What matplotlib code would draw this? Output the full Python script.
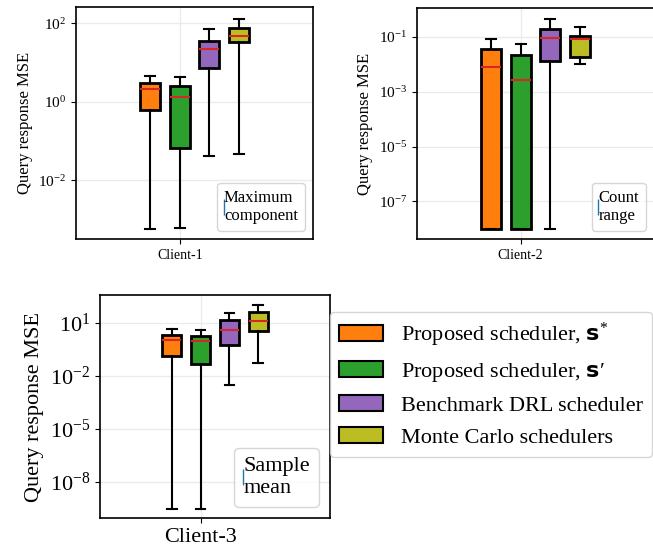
import matplotlib
matplotlib.use('Agg')
import matplotlib.pyplot as plt
from matplotlib.patches import Patch
from matplotlib.lines import Line2D

plt.rcParams['font.family'] = ['Liberation Serif', 'DejaVu Serif']
plt.rcParams['mathtext.fontset'] = 'custom'
plt.rcParams['mathtext.rm'] = 'Liberation Serif'
plt.rcParams['mathtext.it'] = 'Liberation Serif:italic'
plt.rcParams['mathtext.bf'] = 'DejaVu Sans:bold'

# --- data (log-scale box statistics) ---
schedulers = [r'Proposed scheduler, $\mathbf{s}^{*}$',
              'Proposed scheduler, $\\mathbf{s}$\u2032',
              'Benchmark DRL scheduler',
              'Monte Carlo schedulers']
colors = ['tab:orange', 'tab:green', 'tab:purple', 'tab:olive']
clients = ['Client-1', 'Client-2', 'Client-3']
notes = ['Maximum\ncomponent', 'Count\nrange', 'Sample\nmean']

# client 1
c1_whislo = [5.6e-4, 5.9e-4, 0.042, 0.047]
c1_q1 = [0.62, 0.065, 7.2, 34.0]
c1_med = [2.1, 1.34, 22.0, 46.6]
c1_q3 = [3.05, 2.56, 34.7, 74.5]
c1_whishi = [4.6, 4.4, 71.6, 129.0]

# client 2
c2_whislo = [1e-8, 1e-8, 1e-8, 0.0104]
c2_q1 = [1e-8, 1e-8, 0.0136, 0.0191]
c2_med = [0.0082, 0.0026, 0.089, 0.0867]
c2_q3 = [0.0353, 0.0214, 0.20, 0.111]
c2_whishi = [0.0867, 0.0537, 0.466, 0.238]

# client 3
c3_whislo = [3e-10, 3e-10, 0.0031, 0.054]
c3_q1 = [0.135, 0.048, 0.59, 3.5]
c3_med = [1.09, 0.96, 4.2, 13.0]
c3_q3 = [2.1, 1.84, 14.8, 41.7]
c3_whishi = [4.6, 3.85, 35.0, 104.0]

positions = [0.7, 1.0, 1.3, 1.6]

fig = plt.figure(figsize=(6.53, 5.53), dpi=100)
ax1 = fig.add_axes([76 / 653, 1 - 239 / 553, 237 / 653, 232 / 553])
ax2 = fig.add_axes([417 / 653, 1 - 239 / 553, 237 / 653, 231 / 553])
ax3 = fig.add_axes([100 / 653, 1 - 518 / 553, 230 / 653, 223 / 553])

panels = [
    (ax1, c1_whislo, c1_q1, c1_med, c1_q3, c1_whishi, (10 ** -3.5, 10 ** 2.42), [1e-2, 1e0, 1e2], 12, 10, 11),
    (ax2, c2_whislo, c2_q1, c2_med, c2_q3, c2_whishi, (10 ** -8.37, 10 ** 0.06), [1e-7, 1e-5, 1e-3, 1e-1], 12, 10, 11),
    (ax3, c3_whislo, c3_q1, c3_med, c3_q3, c3_whishi, (10 ** -10.05, 10 ** 2.58), [1e-8, 1e-5, 1e-2, 1e1], 16, 16, 16),
]

for i, (ax, lo, q1, med, q3, hi, ylim, yt, lab_fs, xt_fs, yt_fs) in enumerate(panels):
    stats = [dict(whislo=lo[k], q1=q1[k], med=med[k], q3=q3[k], whishi=hi[k], fliers=[])
             for k in range(4)]
    bp = ax.bxp(stats, positions=positions, widths=0.2, patch_artist=True,
                showfliers=False,
                boxprops=dict(linewidth=2, edgecolor='black'),
                whiskerprops=dict(linewidth=1.5, color='black'),
                capprops=dict(linewidth=1.5, color='black'),
                medianprops=dict(linewidth=1.5, color='tab:red'))
    for patch, c in zip(bp['boxes'], colors):
        patch.set_facecolor(c)
    ax.set_yscale('log')
    ax.set_ylim(*ylim)
    ax.set_yticks(yt)
    ax.minorticks_off()
    ax.set_xlim(-0.05, 2.35)
    ax.set_xticks([1.0])
    ax.set_xticklabels([clients[i]], fontsize=xt_fs)
    ax.tick_params(axis='y', labelsize=yt_fs)
    ax.set_ylabel('Query response MSE', fontsize=lab_fs)
    ax.grid(True, color='#ebebeb', linewidth=1)
    ax.set_axisbelow(True)
    for s in ax.spines.values():
        s.set_linewidth(1.2)
    h = Line2D([], [], color='tab:blue', marker='|', linestyle='none', markersize=11)
    ax.legend([h], [notes[i]], loc='lower right', handlelength=0, handletextpad=0,
              fontsize=lab_fs)

handles = [Patch(facecolor=c, edgecolor='black', linewidth=1.5) for c in colors]
fig.legend(handles, schedulers, loc='upper left', fontsize=16,
           bbox_to_anchor=(330 / 653, 1 - 312 / 553), borderaxespad=0,
           handlelength=2.0, labelspacing=0.52)

fig.savefig('out.png', dpi=100)
